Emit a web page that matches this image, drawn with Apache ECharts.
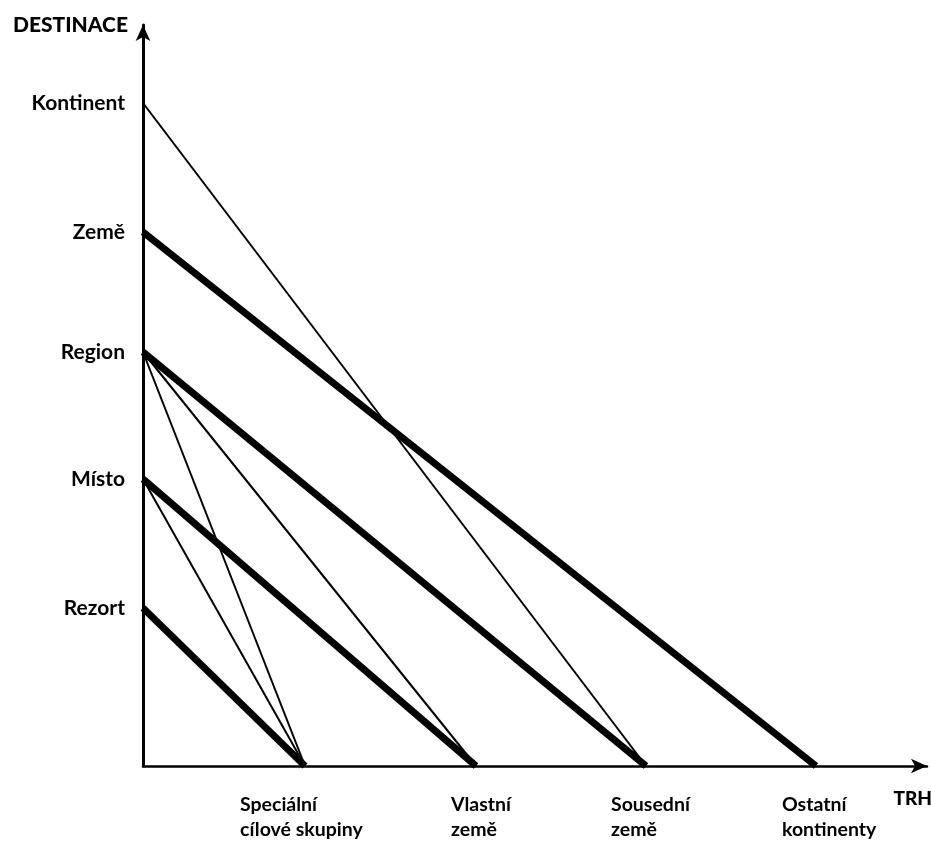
<!DOCTYPE html>
<html>
<head>
<meta charset="utf-8">
<script src="https://cdn.jsdelivr.net/npm/echarts@6/dist/echarts.min.js"></script>
<style>
html,body{margin:0;padding:0;background:#fff;}
#chart{width:931px;height:844px;}
</style>
</head>
<body>
<div id="chart"></div>
<script>
// Destination levels (y) and market levels (x)
const destinations = ['Rezort', 'Místo', 'Region', 'Země', 'Kontinent'];
const destLevels = [15.8, 28.7, 41.4, 53.4, 66.3];
const markets = [['Speciální', 'cílové skupiny'], ['Vlastní', 'země'], ['Sousední', 'země'], ['Ostatní', 'kontinenty']];
const marketLevels = [16.2, 33.3, 50.3, 67.3];
// links [destination index, market index]
const strongLinks = [[0, 0], [1, 1], [2, 2], [3, 3]];
const weakLinks = [[4, 2], [2, 1], [2, 0], [1, 0]];
const yAxisName = 'DESTINACE';
const xAxisName = 'TRH';

// styling
const FONT = 'Lato';
const yLabelSize = 21;
const xLabelSize = 19.5;
const xLabelShiftPx = [-3, 6, 5, 14];

function measure(text, weight, size) {
  const c = document.createElement('canvas').getContext('2d');
  c.font = weight + ' ' + size + 'px ' + FONT;
  return c.measureText(text).width;
}

const rich = {};
markets.forEach((lines, i) => {
  const w = Math.ceil(Math.max(...lines.map(l => measure(l, 'bold', xLabelSize)))) + 1;
  const s = xLabelShiftPx[i];
  rich['m' + i] = {
    width: w, align: 'left', fontFamily: FONT, fontWeight: 'bold', fontSize: xLabelSize,
    color: '#000', lineHeight: 25,
    padding: s >= 0 ? [0, 0, 0, 2 * s] : [0, -2 * s, 0, 0]
  };
});

function linkSeries(link, width) {
  const d = link[0], m = link[1];
  return {
    type: 'line',
    data: [[0, destLevels[d]], [marketLevels[m], 0]],
    symbol: 'none',
    lineStyle: { color: '#000', width: width, cap: 'butt' },
    silent: true,
    clip: false,
    z: width > 3 ? 3 : 2
  };
}

const series = [];
weakLinks.forEach(l => series.push(linkSeries(l, 2)));
strongLinks.forEach(l => series.push(linkSeries(l, 7)));

const chart = echarts.init(document.getElementById('chart'), null, { renderer: 'canvas' });
chart.setOption({
  animation: false,
  backgroundColor: '#fff',
  grid: { left: 143, right: 4, top: 25, bottom: 78, containLabel: false, outerBoundsMode: 'none' },
  xAxis: {
    type: 'value',
    min: 0,
    max: 78.4,
    name: xAxisName,
    nameLocation: 'end',
    nameGap: 0,
    nameTextStyle: { fontFamily: FONT, fontWeight: 900, fontSize: 19, color: '#000', align: 'right', verticalAlign: 'top', padding: [23, -5, 0, 0] },
    axisLine: { show: true, symbol: ['none', 'arrow'], symbolSize: [11, 16], lineStyle: { color: '#000', width: 2.5 } },
    axisTick: { show: false },
    splitLine: { show: false },
    axisLabel: {
      show: true,
      customValues: marketLevels,
      margin: 26,
      align: 'center',
      formatter: function (v) {
        const i = marketLevels.indexOf(v);
        if (i < 0) return '';
        return markets[i].map(l => '{m' + i + '|' + l + '}').join('\n');
      },
      rich: rich
    }
  },
  yAxis: {
    type: 'value',
    min: 0,
    max: 74.1,
    name: yAxisName,
    nameLocation: 'end',
    nameGap: 0,
    nameTextStyle: { fontFamily: FONT, fontWeight: 900, fontSize: 21, color: '#000', align: 'right', verticalAlign: 'middle', padding: [0, 15, 0, 0] },
    axisLine: { show: true, symbol: ['none', 'arrow'], symbolSize: [11, 16], lineStyle: { color: '#000', width: 3 } },
    axisTick: { show: false },
    splitLine: { show: false },
    axisLabel: {
      show: true,
      customValues: destLevels,
      margin: 18,
      fontFamily: FONT,
      fontWeight: 'bold',
      fontSize: yLabelSize,
      color: '#000',
      formatter: function (v) {
        const i = destLevels.indexOf(v);
        return i < 0 ? '' : destinations[i];
      }
    }
  },
  series: series
});
</script>
</body>
</html>
